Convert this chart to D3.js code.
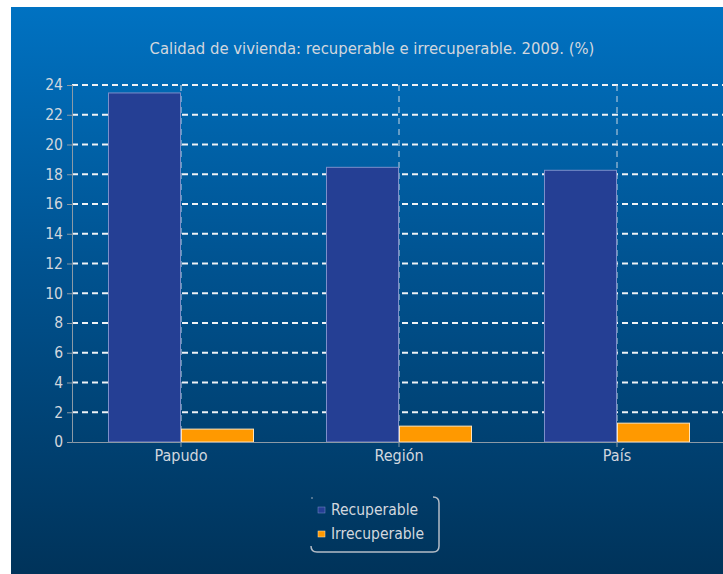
<!DOCTYPE html>
<html><head><meta charset="utf-8">
<script src="https://cdn.jsdelivr.net/npm/d3@7"></script>
<style>
html,body{margin:0;padding:0;background:#fff;}
svg{display:block;}
text{font-family:"DejaVu Sans Condensed","DejaVu Sans",sans-serif;fill:#d2d7de;}
</style></head>
<body>
<script>
const categories = ["Papudo", "Región", "País"];
const seriesNames = ["Recuperable", "Irrecuperable"];
const recuperable = [23.5, 18.5, 18.3];
const irrecuperable = [0.9, 1.1, 1.3];
const yTicks = [0, 2, 4, 6, 8, 10, 12, 14, 16, 18, 20, 22, 24];
const title = "Calidad de vivienda: recuperable e irrecuperable. 2009. (%)";
const colors = ["#253f94", "#ff9900"];
const strokes = ["#7d8fca", "#ffe3b8"];

const W = 723, H = 574;
const svg = d3.select("body").append("svg").attr("width", W).attr("height", H);

const defs = svg.append("defs");
const grad = defs.append("linearGradient").attr("id", "bg").attr("x1", 0).attr("y1", 0).attr("x2", 0).attr("y2", 1);
grad.append("stop").attr("offset", "0%").attr("stop-color", "#0072c2");
grad.append("stop").attr("offset", "45%").attr("stop-color", "#005391");
grad.append("stop").attr("offset", "100%").attr("stop-color", "#00335a");

svg.append("rect").attr("x", 11).attr("y", 7).attr("width", W - 11).attr("height", H - 7).attr("fill", "url(#bg)");

const plot = {left: 72, right: 726, top: 85, bottom: 442};
const x0 = d3.scaleBand().domain(categories).range([plot.left, plot.right]).padding(0);
const x1 = d3.scaleBand().domain(seriesNames).range([36, x0.bandwidth() - 36]).padding(0);
const y = d3.scaleLinear().domain([0, 24]).range([plot.bottom, plot.top]);

// title
svg.append("text").attr("x", 372).attr("y", 54).attr("text-anchor", "middle")
  .style("font-size", "16.5px").text(title);

// horizontal grid
svg.append("g").selectAll("line").data(yTicks.filter(d => d > 0)).join("line")
  .attr("x1", plot.left).attr("x2", W)
  .attr("y1", d => y(d)).attr("y2", d => y(d))
  .attr("stroke", "#eef2f6").attr("stroke-width", 1.8).attr("stroke-dasharray", "6,4");

// vertical grid at category centers
svg.append("g").selectAll("line").data(categories).join("line")
  .attr("x1", d => x0(d) + x0.bandwidth() / 2).attr("x2", d => x0(d) + x0.bandwidth() / 2)
  .attr("y1", plot.top).attr("y2", plot.bottom)
  .attr("stroke", "#c9d6e2").attr("stroke-width", 1).attr("stroke-dasharray", "6,5");

// bars
const data = categories.map((c, i) => ({cat: c, vals: [recuperable[i], irrecuperable[i]]}));
const groups = svg.append("g").selectAll("g").data(data).join("g")
  .attr("transform", d => `translate(${x0(d.cat)},0)`);
groups.selectAll("rect").data(d => d.vals.map((v, j) => ({s: seriesNames[j], v, j}))).join("rect")
  .attr("x", d => x1(d.s) + 0.5).attr("width", x1.bandwidth() - 1)
  .attr("y", d => y(d.v) + 0.5).attr("height", d => y(0) - y(d.v) - 0.5)
  .attr("fill", d => colors[d.j]).attr("stroke", d => strokes[d.j]).attr("stroke-width", 1);

// y axis
const yAxis = d3.axisLeft(y).tickValues(yTicks).tickSize(5).tickPadding(4).tickFormat(d3.format("d"));
const gy = svg.append("g").attr("transform", `translate(${plot.left},0)`).call(yAxis);
gy.select(".domain").attr("stroke", "#8c9aa6");
gy.selectAll(".tick line").attr("stroke", "#8c9aa6");
gy.selectAll(".tick text").style("font-size", "15.5px").attr("fill", "#d2d7de").attr("font-family", null);

// x axis
const xAxis = d3.axisBottom(x0).tickSize(5).tickPadding(3).tickSizeOuter(0);
const gx = svg.append("g").attr("transform", `translate(0,${plot.bottom})`).call(xAxis);
gx.select(".domain").attr("stroke", "#8c9aa6");
gx.selectAll(".tick line").attr("stroke", "#8c9aa6");
gx.selectAll(".tick text").style("font-size", "16px").attr("fill", "#d2d7de").attr("font-family", null);

// legend
const lg = svg.append("g");
const bx = 311, by = 497, bw = 128, bh = 55, r = 6;
const p = d3.path();
p.moveTo(bx + bw - r, by);
p.quadraticCurveTo(bx + bw, by, bx + bw, by + r);
p.lineTo(bx + bw, by + bh - r);
p.quadraticCurveTo(bx + bw, by + bh, bx + bw - r, by + bh);
p.lineTo(bx + r, by + bh);
p.quadraticCurveTo(bx, by + bh, bx, by + bh - r);
lg.append("path").attr("d", p.toString()).attr("fill", "none").attr("stroke", "#b4bcc6").attr("stroke-width", 1.5);
lg.append("circle").attr("cx", bx + 1).attr("cy", by + 1).attr("r", 0.8).attr("fill", "#b4bcc6");
seriesNames.forEach((s, i) => {
  const yy = 510 + i * 24;
  lg.append("rect").attr("x", 318).attr("y", yy - 3).attr("width", 7).attr("height", 6)
    .attr("fill", colors[i]).attr("stroke", strokes[i]).attr("stroke-width", 0.5);
  lg.append("text").attr("x", 331).attr("y", yy).attr("dy", "0.35em")
    .style("font-size", "15.5px").text(s);
});
</script>
</body></html>
